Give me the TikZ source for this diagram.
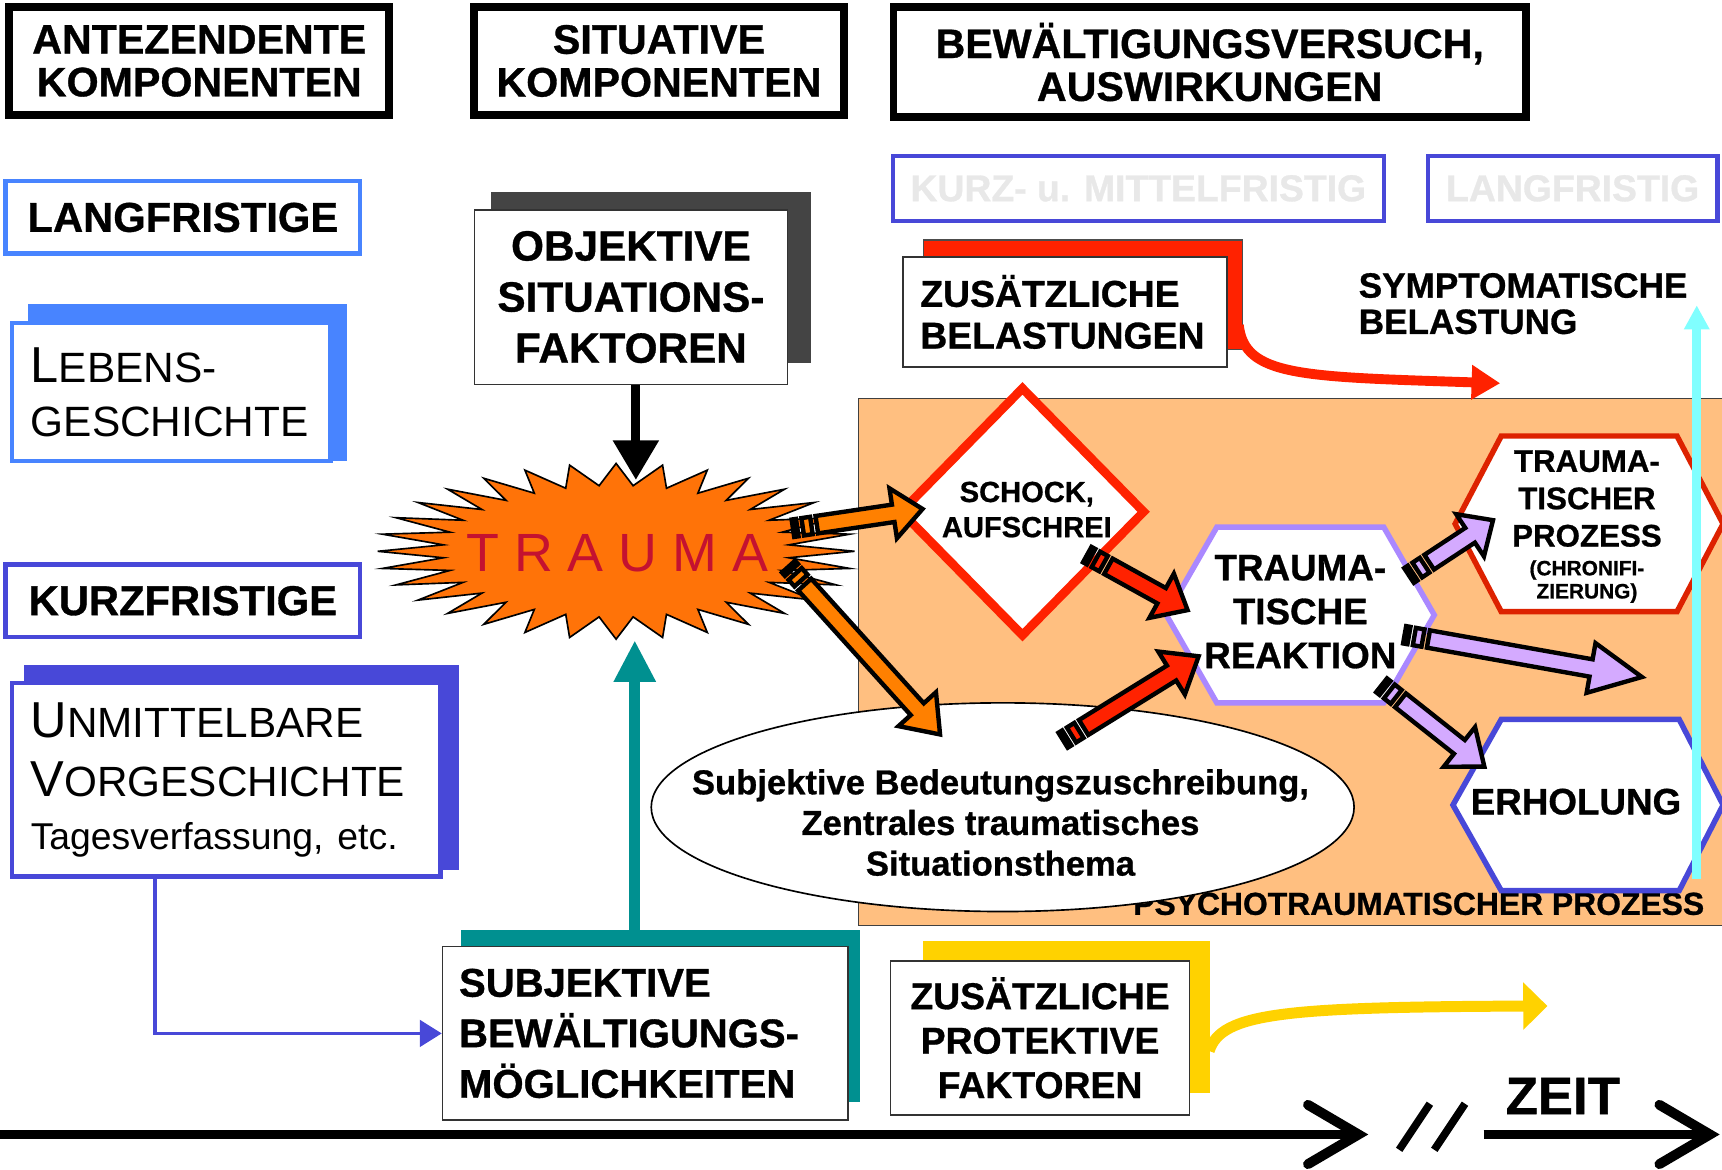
\documentclass[tikz,border=0pt]{standalone}
\usepackage{fontspec}
\setmainfont{Liberation Sans}[BoldFeatures={FakeBold=0.8}]
\usetikzlibrary{arrows.meta,calc,shapes.geometric}
\definecolor{lblue}{RGB}{72,132,255}
\definecolor{indig}{RGB}{72,72,216}
\definecolor{shgray}{RGB}{68,68,68}
\definecolor{tealc}{RGB}{0,144,144}
\definecolor{yel}{RGB}{255,210,0}
\definecolor{redc}{RGB}{255,34,0}
\definecolor{peach}{RGB}{255,191,128}
\definecolor{burstor}{RGB}{255,115,8}
\definecolor{arror}{RGB}{255,128,0}
\definecolor{lav}{RGB}{212,170,255}
\definecolor{lavline}{RGB}{170,136,255}
\definecolor{cyanc}{RGB}{128,255,255}
\definecolor{crim}{RGB}{196,18,48}
\definecolor{darkred}{RGB}{221,34,0}
\definecolor{ltgray}{RGB}{232,232,232}
\newcommand\fsz[2]{\fontsize{#1}{#2}\selectfont}
\makeatletter
\newcommand\blkarrow[4]{%
  \pgfmathanglebetweenpoints{\pgfpointanchor{#1}{center}}{\pgfpointanchor{#2}{center}}%
  \let\blkang\pgfmathresult
  \pgfpointdiff{\pgfpointanchor{#1}{center}}{\pgfpointanchor{#2}{center}}%
  \edef\blkx{\the\pgf@x}\edef\blky{\the\pgf@y}%
  \pgfmathveclen{\blkx}{\blky}%
  \let\bl\pgfmathresult
  \begin{scope}[shift={(#1)}, rotate=\blkang, x=1pt, y=1pt]
    \filldraw[blk, fill=#3] (0,-8) rectangle (4,8);
    \filldraw[blk, fill=#3] (9,-8) rectangle (17,8);
    \filldraw[blk, fill=#3] (22,-8) -- ({\bl-#4},-8) -- ({\bl-#4},-23) -- ({\bl-3},0)
      -- ({\bl-#4},23) -- ({\bl-#4},8) -- (22,8) -- cycle;
  \end{scope}}
\makeatother
\begin{document}
\begin{tikzpicture}[x=1pt,y=-1pt,
  hdr/.style={draw, line width=7pt, fill=white, align=center, inner sep=0pt, font=\bfseries\fsz{37.5}{39}},
  bbox/.style={draw, line width=4pt, fill=white, inner sep=0pt},
  wbox/.style={draw=black!80, line width=1.5pt, fill=white, inner sep=0pt},
  shad/.style={inner sep=0pt, anchor=north west},
  blk/.style={draw=black, line width=4pt, line join=miter},
  axis/.style={line width=9pt},
  hexline/.style={line width=5pt, fill=white, line join=miter}]
\useasboundingbox (0,0) rectangle (1568,1065);
\fill[white] (0,0) rectangle (1568,1065);

% process region
\draw[draw=black!75, line width=1.2pt, fill=peach] (782,363) rectangle (1590,843);
\node[anchor=base east, inner sep=0pt, font=\bfseries\fsz{29}{34}] (psy) at (1552,833) {PSYCHOTRAUMATISCHER PROZESS};

% ellipse
\node[ellipse, draw, line width=1.5pt, fill=white, minimum width=640, minimum height=190, inner sep=0pt] (ell) at (913,735) {};
\node[align=center, font=\bfseries\fsz{31.5}{37}, inner sep=0pt] (elltxt) at (911,749) {Subjektive Bedeutungszuschreibung,\\Zentrales traumatisches\\Situationsthema};

% hexagons
\coordinate (reakc) at (1184,560);
\draw[hexline, draw=lavline] ($(reakc)+(-122,0)$) -- ($(reakc)+(-76,-80)$) -- ($(reakc)+(76,-80)$) -- ($(reakc)+(122,0)$) -- ($(reakc)+(76,80)$) -- ($(reakc)+(-76,80)$) -- cycle;
\node[align=center, font=\bfseries\fsz{33.5}{40}, inner sep=0pt] (reak) at (1184,557) {TRAUMA-\\TISCHE\\REAKTION};

\coordinate (prozc) at (1447,477);
\draw[hexline, draw=darkred] ($(prozc)+(-122,0)$) -- ($(prozc)+(-80,-80)$) -- ($(prozc)+(80,-80)$) -- ($(prozc)+(122,0)$) -- ($(prozc)+(80,80)$) -- ($(prozc)+(-80,80)$) -- cycle;
\node[align=center, font=\bfseries\fsz{28.5}{34}, inner sep=0pt] (proz) at (1445,454) {TRAUMA-\\TISCHER\\PROZESS};
\node[align=center, font=\bfseries\fsz{19}{21}, inner sep=0pt] (prozsub) at (1445,529.5) {(CHRONIFI-\\ZIERUNG)};

\coordinate (erhc) at (1447,733);
\draw[hexline, draw=indig] ($(erhc)+(-124,0)$) -- ($(erhc)+(-80,-78)$) -- ($(erhc)+(82,-78)$) -- ($(erhc)+(122,0)$) -- ($(erhc)+(82,78)$) -- ($(erhc)+(-80,78)$) -- cycle;
\node[font=\bfseries\fsz{33.5}{40}, inner sep=0pt] (erh) at (1435,730) {ERHOLUNG};

% diamond
\node[diamond, draw=redc, line width=8pt, fill=white, minimum width=224, minimum height=228, inner sep=0pt] (shock) at (931,466) {};
\node[align=center, font=\bfseries\fsz{26.5}{32}, inner sep=0pt] (shocktxt) at (935,464) {SCHOCK,\\AUFSCHREI};

% starburst
\coordinate (tc) at (561,502);
\draw[fill=burstor, line width=1.5pt, line join=miter] ($(tc)+(217,0)$)
  \foreach \i in {0,...,31} { -- ($(tc)+({217*cos(\i*11.25)},{80*sin(\i*11.25)})$) -- ($(tc)+({158*cos(\i*11.25+5.625)},{60*sin(\i*11.25+5.625)})$) } -- cycle;
\node[text=crim, font=\fsz{49}{55}, inner sep=0pt] (trauma) at (562,504) {T R A U M A};

% headers
\node[hdr, minimum width=346, minimum height=98] (h1) at (181.5,55.5) {ANTEZENDENTE\\KOMPONENTEN};
\node[hdr, minimum width=337, minimum height=98] (h2) at (600,55.5) {SITUATIVE\\KOMPONENTEN};
\node[hdr, minimum width=576, minimum height=100] (h3) at (1101.5,56.5) {BEWÄLTIGUNGSVERSUCH,\\AUSWIRKUNGEN};

\node[bbox, draw=indig, minimum width=447, minimum height=59, text=ltgray, font=\bfseries\fsz{34}{40}] (kmf) at (1036.5,171.5) {KURZ- u. MITTELFRISTIG};
\node[bbox, draw=indig, minimum width=264, minimum height=59, text=ltgray, font=\bfseries\fsz{34}{40}] (lfr) at (1432,171.5) {LANGFRISTIG};

% left column
\node[bbox, draw=lblue, minimum width=323, minimum height=66, font=\bfseries\fsz{38}{44}] (lfe) at (166.5,198) {LANGFRISTIGE};
\node[shad, fill=lblue, minimum width=291, minimum height=143] (lebsh) at (25,277) {};
\node[bbox, draw=lblue, minimum width=290, minimum height=126, align=left, text width=256, inner xsep=17pt, font=\fsz{38.6}{49}] (leb) at (156,357) {{\fsz{46}{49}L}EBENS-\\GESCHICHTE};

\node[bbox, draw=indig, minimum width=323, minimum height=66, font=\bfseries\fsz{38}{44}] (kfe) at (166.5,547) {KURZFRISTIGE};
\node[shad, fill=indig, minimum width=396, minimum height=187] (unmsh) at (22,605) {};
\node[bbox, draw=indig, minimum width=390, minimum height=176, align=left, text width=356, inner xsep=17pt, font=\fsz{38.5}{54}] (unm) at (206,710) {{\fsz{46}{54}U}NMITTELBARE\\{\fsz{46}{54}V}ORGESCHICHTE\\[-6pt]{\fsz{34}{48}Tagesverfassung, etc.}};

% situative column
\node[shad, fill=shgray, minimum width=291, minimum height=155] (objsh) at (447,175) {};
\node[wbox, minimum width=285, minimum height=159, align=center, font=\bfseries\fsz{38.5}{46.5}] (obj) at (574.5,270.5) {OBJEKTIVE\\SITUATIONS-\\FAKTOREN};

\node[shad, fill=tealc, minimum width=363, minimum height=156] (subjsh) at (420,847) {};
\node[wbox, minimum width=369, minimum height=158, align=left, text width=339, inner xsep=15pt, font=\bfseries\fsz{36.5}{46}] (subj) at (587.5,941) {SUBJEKTIVE\\BEWÄLTIGUNGS-\\MÖGLICHKEITEN};

% right column boxes
\node[shad, fill=yel, minimum width=262, minimum height=138] (protsh) at (840,857) {};
\node[wbox, minimum width=272, minimum height=140, align=center, font=\bfseries\fsz{34}{40.5}] (prot) at (947,945) {ZUSÄTZLICHE\\PROTEKTIVE\\FAKTOREN};

\node[shad, fill=redc, draw=black!70, line width=1pt, minimum width=291, minimum height=100] (belsh) at (840,218) {};
\node[wbox, minimum width=295, minimum height=100, align=left, text width=263, inner xsep=16pt, font=\bfseries\fsz{34}{38}] (bel) at (969.5,284) {ZUSÄTZLICHE\\BELASTUNGEN};

\node[anchor=west, align=left, inner sep=0pt, font=\bfseries\fsz{32}{33}] (sym) at (1237,276.5) {SYMPTOMATISCHE\\BELASTUNG};

% connectors
\coordinate (trtop) at (579,437);
\coordinate (trbot) at (578,583);
\draw[line width=8pt, -{Triangle[length=36pt,width=40pt]}] (obj.south -| trtop) -- (trtop);
\draw[tealc, line width=10pt, -{Triangle[length=38pt,width=36pt]}] (subjsh.north -| trbot) -- (trbot);
\coordinate (ic) at (141,0);
\draw[indig, line width=3.5pt, -{Triangle[length=20pt,width=24pt]}] (unm.south -| ic) |- (subj.west);

\coordinate (rs) at (1128,296);
\coordinate (re) at (1366,349);
\draw[redc, line width=9pt, -{Triangle[length=26pt,width=30pt]}] (rs) .. controls (1133,343) and (1185,343) .. (re);
\coordinate (ys) at (1101,957);
\coordinate (ye) at (1409,916);
\draw[yel, line width=10pt, -{Triangle[length=22pt,width=42pt]}] (ys) .. controls (1112,922) and (1170,917) .. (ye);
\coordinate (cb) at (1545,800);
\coordinate (ct) at (1545,278);
\draw[cyanc, line width=8pt, -{Triangle[length=22pt,width=22pt]}] (cb) -- (ct);

% block arrows
\coordinate (a1s) at (722,481); \coordinate (a1e) at (843,463);
\coordinate (a2s) at (718,516); \coordinate (a2e) at (858,671);
\coordinate (a3s) at (990,505); \coordinate (a3e) at (1084,557);
\coordinate (a4s) at (968,674); \coordinate (a4e) at (1094,596);
\coordinate (a5s) at (1283,524); \coordinate (a5e) at (1362,472);
\coordinate (a6s) at (1279,578); \coordinate (a6e) at (1498,617);
\coordinate (a7s) at (1258,624); \coordinate (a7e) at (1354,700);
\blkarrow{a1s}{a1e}{arror}{30}
\blkarrow{a2s}{a2e}{arror}{34}
\blkarrow{a3s}{a3e}{redc}{30}
\blkarrow{a4s}{a4e}{redc}{32}
\blkarrow{a5s}{a5e}{lav}{28}
\blkarrow{a6s}{a6e}{lav}{50}
\blkarrow{a7s}{a7e}{lav}{32}

% time axis
\coordinate (t0) at (0,1033);
\coordinate (t1) at (1237,1033);
\coordinate (t2) at (1351,1033);
\coordinate (t3) at (1557,1033);
\draw[axis] (t0) -- (t1);
\draw[axis, line cap=round, line join=miter] ($(t1)+(-46,-27)$) -- (t1) -- ($(t1)+(-46,27)$);
\draw[axis] (t2) -- (t3);
\draw[axis, line cap=round, line join=miter] ($(t3)+(-46,-27)$) -- (t3) -- ($(t3)+(-46,27)$);
\draw[line width=7pt] (1274,1047) -- (1302,1005);
\draw[line width=7pt] (1306,1047) -- (1334,1005);
\node[font=\bfseries\fsz{48}{50}, inner sep=0pt] (zeit) at (1423,998) {ZEIT};
\end{tikzpicture}
\end{document}
